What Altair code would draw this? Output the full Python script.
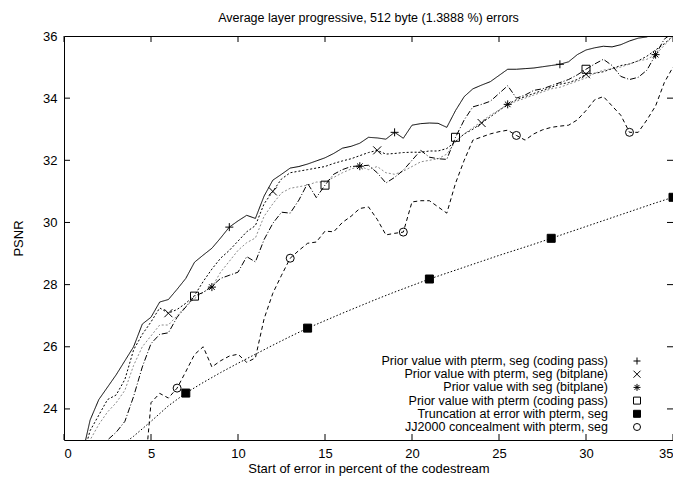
import altair as alt
import pandas as pd

FONT = "Liberation Sans"

TITLE = "Average layer progressive, 512 byte (1.3888 %) errors"
X_TITLE = "Start of error in percent of the codestream"
Y_TITLE = "PSNR"
X_TICKS = [0, 5, 10, 15, 20, 25, 30, 35]
Y_TICKS = [24, 26, 28, 30, 32, 34, 36]

LABELS = [
    "Prior value with pterm, seg (coding pass)",
    "Prior value with pterm, seg (bitplane)",
    "Prior value with seg (bitplane)",
    "Prior value with pterm (coding pass)",
    "Truncation at error with pterm, seg",
    "JJ2000 concealment with pterm, seg",
]

# series values (x = start + step * i)
S1_START, S1_STEP = 1.0, 0.5
S1 = [22.4, 23.64, 24.3, 24.7, 25.1, 25.55, 26.0, 26.73, 26.95, 27.44, 27.52, 27.85,
      28.2, 28.72, 28.95, 29.17, 29.5, 29.85, 30.05, 30.23, 30.13, 30.85, 31.36, 31.55,
      31.75, 31.8, 31.88, 31.98, 32.08, 32.22, 32.39, 32.45, 32.55, 32.74, 32.72, 32.68,
      32.9, 32.71, 33.13, 33.18, 33.2, 33.19, 33.06, 33.6, 34.05, 34.3, 34.42, 34.53,
      34.73, 34.93, 34.93, 34.95, 34.97, 35.01, 35.05, 35.09, 35.17, 35.4, 35.55, 35.62,
      35.67, 35.65, 35.72, 35.84, 35.93, 35.97, 36.1, 36.2, 36.3]

S2_START, S2_STEP = 1.0, 0.5
S2 = [22.3, 23.3, 23.8, 24.3, 24.45, 24.95, 25.9, 26.4, 26.8, 27.25, 27.08, 27.2,
      27.4, 27.65, 28.1, 28.5, 28.85, 29.1, 29.4, 29.7, 29.9, 30.6, 31.0, 31.4,
      31.6, 31.65, 31.7, 31.75, 31.8, 31.9, 31.98, 32.05, 32.15, 32.25, 32.32, 32.2,
      32.22, 32.25, 32.26, 32.26, 32.3, 32.3, 32.38, 32.6, 32.85, 33.0, 33.2, 33.4,
      33.6, 33.8, 33.95, 34.05, 34.15, 34.25, 34.35, 34.45, 34.5, 34.6, 34.77, 34.8,
      34.85, 34.95, 35.05, 35.1, 35.2, 35.35, 35.55, 35.75, 36.0]

S3_START, S3_STEP = 1.0, 0.5
S3 = [22.2, 23.0, 23.5, 23.9, 24.2, 24.6, 25.4, 26.0, 26.35, 26.7, 26.7, 27.0,
      27.3, 27.55, 27.75, 27.92, 28.4, 28.75, 29.1, 29.35, 29.5, 30.2, 30.6, 30.95,
      31.1, 31.15, 31.2, 31.3, 31.3, 31.45, 31.6, 31.72, 31.81, 31.7, 31.8, 31.6,
      31.55, 31.65, 31.8, 31.95, 32.0, 32.05, 32.2, 32.6, 32.85, 33.05, 33.25, 33.45,
      33.62, 33.8, 33.9, 34.0, 34.1, 34.2, 34.3, 34.35, 34.45, 34.55, 34.65, 34.8,
      34.9, 34.95, 35.0, 35.1, 35.2, 35.25, 35.4, 35.7, 36.0]

S4_START, S4_STEP = 2.0, 0.5
S4 = [22.4, 23.0, 23.25, 23.6, 24.4, 25.35, 26.1, 26.4, 26.45, 26.95,
      27.28, 27.63, 27.75, 27.95, 28.2, 28.3, 28.4, 28.9, 28.73, 29.45, 29.97, 30.33,
      30.3, 30.72, 31.26, 30.8, 31.2, 31.55, 31.7, 31.8, 31.82, 31.84, 31.6, 31.27,
      31.45, 31.68, 32.0, 32.32, 32.1, 32.05, 32.03, 32.74, 33.3, 33.72, 33.8, 33.9,
      34.15, 34.4, 34.0, 34.1, 34.25, 34.3, 34.4, 34.5, 34.6, 34.75, 34.93, 35.1,
      35.25, 35.05, 34.7, 34.6, 34.67, 34.9, 35.4, 35.9, 36.1]

S5_START, S5_STEP = 3.0, 1.0
S5 = [22.7, 23.12, 23.6, 24.1, 24.51, 24.85, 25.17, 25.47, 25.76, 26.05, 26.33, 26.6,
      26.84, 27.08, 27.31, 27.54, 27.76, 27.97, 28.18, 28.37, 28.56, 28.75, 28.94, 29.12,
      29.3, 29.49, 29.68, 29.87, 30.06, 30.25, 30.44, 30.63, 30.81]

S6_START, S6_STEP = 4.5, 0.5
S6 = [21.0, 24.2, 24.5, 24.35, 24.67, 25.2, 25.75, 26.0, 25.35, 25.55, 25.7, 25.76,
      25.5, 25.64, 26.9, 27.72, 28.3, 28.85, 29.1, 29.33, 29.37, 29.72, 29.7, 30.0,
      30.2, 30.45, 30.5, 30.1, 29.6, 29.65, 29.69, 30.66, 30.7, 30.7, 30.5, 30.3,
      31.26, 32.0, 32.65, 32.75, 32.85, 32.92, 32.97, 32.8, 32.65, 32.85, 32.98, 33.06,
      33.1, 33.13, 33.3, 33.6, 33.95, 34.05, 33.75, 33.45, 32.9, 32.9, 33.3, 33.75,
      34.5, 35.0]

# x positions where each series carries a point symbol
M1 = [9.5, 19.0, 28.5]
M2 = [6.0, 12.0, 18.0, 24.0, 30.0]
M3 = [8.5, 17.0, 25.5, 34.0]
M4 = [7.5, 15.0, 22.5, 30.0]
M5 = [7.0, 14.0, 21.0, 28.0, 35.0]
M6 = [6.5, 13.0, 19.5, 26.0, 32.5]

SERIES = [(S1_START, S1_STEP, S1, M1), (S2_START, S2_STEP, S2, M2),
          (S3_START, S3_STEP, S3, M3), (S4_START, S4_STEP, S4, M4),
          (S5_START, S5_STEP, S5, M5), (S6_START, S6_STEP, S6, M6)]

COLORS = ["black", "black", "#8a8a8a", "black", "black", "black"]
DASHES = [[1, 0], [2, 2], [2, 2], [6, 2, 1, 2], [1.5, 2], [4, 3]]
SHAPES = [
    "M-1,0L1,0M0,-1L0,1",
    "M-1,-1L1,1M-1,1L1,-1",
    "M-1,0L1,0M0,-1L0,1M-0.7,-0.7L0.7,0.7M-0.7,0.7L0.7,-0.7",
    "square",
    "square",
    "circle",
]
FILLS = ["transparent", "transparent", "transparent", "transparent", "black", "transparent"]

rows, marks = [], []
for name, (start, step, vals, mx) in zip(LABELS, SERIES):
    xs = [round(start + step * i, 3) for i in range(len(vals))]
    lookup = dict(zip(xs, vals))
    for x, y in zip(xs, vals):
        rows.append({"series": name, "x": x, "y": y})
    for x in mx:
        marks.append({"series": name, "x": x, "y": lookup[round(x, 3)]})
df = pd.DataFrame(rows)
mdf = pd.DataFrame(marks)

W, H = 609, 404
xscale = alt.Scale(domain=[0, 35], nice=False, zero=False)
yscale = alt.Scale(domain=[23, 36], nice=False, zero=False)

lines = alt.Chart(df).mark_line(clip=True, strokeWidth=1).encode(
    x=alt.X("x:Q", scale=xscale,
            axis=alt.Axis(values=X_TICKS, tickSize=0, domain=False, grid=False,
                          labelPadding=7, title=X_TITLE, titlePadding=2)),
    y=alt.Y("y:Q", scale=yscale,
            axis=alt.Axis(values=Y_TICKS, tickSize=0, domain=False, grid=False,
                          labelPadding=7, title=Y_TITLE, titlePadding=17)),
    color=alt.Color("series:N", scale=alt.Scale(domain=LABELS, range=COLORS), legend=None),
    strokeDash=alt.StrokeDash("series:N", scale=alt.Scale(domain=LABELS, range=DASHES), legend=None),
    detail="series:N",
)

points = alt.Chart(mdf).mark_point(size=64, strokeWidth=1, opacity=1, color="black").encode(
    x=alt.X("x:Q", scale=xscale),
    y=alt.Y("y:Q", scale=yscale),
    shape=alt.Shape("series:N", scale=alt.Scale(domain=LABELS, range=SHAPES), legend=None),
    fill=alt.Fill("series:N", scale=alt.Scale(domain=LABELS, range=FILLS), legend=None),
)

xt = pd.DataFrame({"v": X_TICKS})
yt = pd.DataFrame({"v": Y_TICKS[:-1]})
tk = 6
tick_b = alt.Chart(xt).mark_rule(color="black", strokeWidth=1).encode(
    x=alt.X("v:Q", scale=xscale), y=alt.value(H), y2=alt.value(H - tk))
tick_t = alt.Chart(xt).mark_rule(color="black", strokeWidth=1).encode(
    x=alt.X("v:Q", scale=xscale), y=alt.value(0), y2=alt.value(tk))
tick_l = alt.Chart(yt).mark_rule(color="black", strokeWidth=1).encode(
    y=alt.Y("v:Q", scale=yscale), x=alt.value(0), x2=alt.value(tk))
tick_r = alt.Chart(yt).mark_rule(color="black", strokeWidth=1).encode(
    y=alt.Y("v:Q", scale=yscale), x=alt.value(W), x2=alt.value(W - tk))

main = alt.layer(tick_b, tick_t, tick_l, tick_r, lines, points)

ldf = pd.DataFrame({"series": LABELS, "row": list(range(len(LABELS)))})
lscale = alt.Scale(type="point", domain=list(range(len(LABELS))), range=[325, 391], padding=0)
leg_text = alt.Chart(ldf).mark_text(align="right", baseline="middle", fontSize=12.5,
                                    font=FONT, color="black").encode(
    x=alt.value(544),
    y=alt.Y("row:O", scale=lscale, axis=None),
    text="series:N",
)
leg_sym = alt.Chart(ldf).mark_point(size=49, strokeWidth=1, opacity=1, color="black").encode(
    x=alt.value(573),
    y=alt.Y("row:O", scale=lscale, axis=None),
    shape=alt.Shape("series:N", scale=alt.Scale(domain=LABELS, range=SHAPES), legend=None),
    fill=alt.Fill("series:N", scale=alt.Scale(domain=LABELS, range=FILLS), legend=None),
)
legend = alt.layer(leg_text, leg_sym)

chart = alt.layer(main, legend).resolve_scale(y="independent").properties(
    width=W, height=H,
    title=alt.TitleParams(TITLE, fontSize=12.5, font=FONT, fontWeight="normal",
                          anchor="middle", offset=6, color="black"),
    autosize=alt.AutoSizeParams(type="none"),
    padding={"left": 56, "top": 28, "right": 0, "bottom": 36},
).configure_view(stroke="black", strokeWidth=1).configure_axis(
    labelFont=FONT, labelFontSize=13, labelColor="black",
    titleFont=FONT, titleFontSize=13, titleFontWeight="normal", titleColor="black",
)

chart.save("out.html", embed_options={"renderer": "svg", "actions": False})
